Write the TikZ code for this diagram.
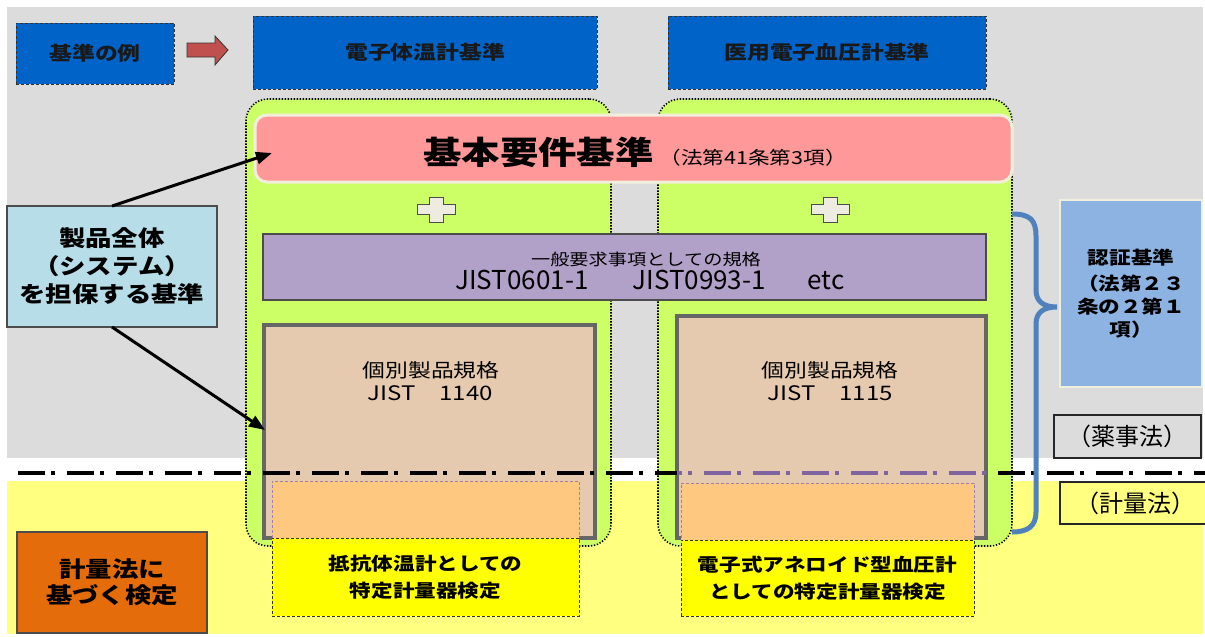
\documentclass[tikz,border=0pt]{standalone}
\usepackage{fontspec}
\setmainfont{Noto Sans CJK JP}
\newfontfamily\jpw{Noto Sans CJK JP}[FakeStretch=1.2]
\usetikzlibrary{arrows.meta}
\definecolor{cbggray}{HTML}{DCDCDC}
\definecolor{cbgyellow}{HTML}{FFFF80}
\definecolor{ctopblue}{HTML}{0063C8}
\definecolor{carrowred}{HTML}{C0504D}
\definecolor{cgreen}{HTML}{CCFF66}
\definecolor{cpink}{HTML}{FF9999}
\definecolor{ccream}{HTML}{F2EEDC}
\definecolor{cplus}{HTML}{EEECE1}
\definecolor{cpurple}{HTML}{B1A0C7}
\definecolor{ctan}{HTML}{E6CAB0}
\definecolor{ctanline}{HTML}{666666}
\definecolor{corangein}{HTML}{FFC880}
\definecolor{corangedash}{HTML}{A080A8}
\definecolor{cyellowlab}{HTML}{FFFF00}
\definecolor{clightblue}{HTML}{B7DEE8}
\definecolor{cnintei}{HTML}{8DB3E2}
\definecolor{corange}{HTML}{E46C0A}
\definecolor{cbrace}{HTML}{4F81BD}
\definecolor{cviolet}{HTML}{8064A2}
\newcommand\fs[2]{\fontsize{#1}{#2}\selectfont}
\begin{document}
\begin{tikzpicture}[x=1pt,y=-1pt,
  base/.style={inner sep=0pt, outer sep=0pt, anchor=north west, align=center},
  txt/.style={inner sep=0pt, outer sep=0pt, align=center},
  topbox/.style={base, fill=ctopblue, draw=black!80, dash pattern=on 3pt off 2pt, line width=0.8pt, font=\jpw\bfseries\fs{19}{23}, text=black!90},
  greenbox/.style={base, fill=cgreen, draw=black, line width=1.6pt, dash pattern=on 1.3pt off 1.7pt, rounded corners=22pt},
  pinkbox/.style={base, fill=cpink, draw=ccream, line width=3pt, rounded corners=12pt},
  plusbox/.style={fill=cplus, draw=black!70, line width=1pt},
  purplebox/.style={base, fill=cpurple, draw=black!70, line width=1.2pt},
  tanbox/.style={base, fill=ctan, draw=ctanline, line width=3.5pt},
  orangein/.style={base, fill=corangein, draw=corangedash, line width=1pt, dash pattern=on 3pt off 2pt},
  yellowlab/.style={base, fill=cyellowlab, draw=black!80, line width=0.9pt, dash pattern=on 3pt off 2pt, font=\jpw\bfseries\fs{18}{27}},
  lbbox/.style={base, fill=clightblue, draw=black!70, line width=1.2pt, font=\jpw\bfseries\fs{22}{28}},
  ninteibox/.style={base, fill=cnintei, draw=ccream, line width=2.5pt, font=\jpw\bfseries\fs{18}{23}},
  lawbox/.style={base, draw=black!85, line width=1.2pt, font=\fs{24}{28}},
  orbox/.style={base, fill=corange, draw=black!70, line width=1.2pt, font=\jpw\bfseries\fs{22}{26}},
  arr/.style={line width=3pt, -{Triangle[length=16pt,width=12pt]}},
  brace/.style={draw=cbrace, line width=5pt},
  dashdot/.style={line width=3.5pt, dash pattern=on 27pt off 6pt on 4pt off 12pt}
]
\useasboundingbox (0,0) rectangle (1205,637);
\fill[white] (0,0) rectangle (1205,637);
% backgrounds
\fill[cbggray] (7,7) rectangle (1203,458);
\fill[cbgyellow] (7,481) rectangle (1203,634);

% top row
\node[topbox, minimum width=158, minimum height=61] (ex) at (16,23) {基準の例};
\fill[carrowred, draw=black!80, line width=0.8pt] (187,43) -- (215,43) -- (215,36) -- (228,50) -- (215,65) -- (215,57) -- (187,57) -- cycle;
\node[topbox, minimum width=344, minimum height=73] (t1) at (253,16) {電子体温計基準};
\node[topbox, minimum width=318, minimum height=73] (t2) at (668,16) {医用電子血圧計基準};

% green groups
\node[greenbox, minimum width=365, minimum height=447] (g1) at (246,99) {};
\node[greenbox, minimum width=354, minimum height=447] (g2) at (658,99) {};

% basic requirements
\node[pinkbox, minimum width=757, minimum height=67] (req) at (255,115) {};
\node[txt, anchor=base] (reqt) at (635,164) {{\jpw\bfseries\fs{32}{36}基本要件基準}\hspace{6pt}{\jpw\fs{18}{22}（法第41条第3項）}};

% plus signs
\foreach \cx/\nm in {436/p1,830/p2}{
  \begin{scope}[shift={(\cx,209)}]
    \draw[plusbox] (-7,-12) -- (7,-12) -- (7,-5) -- (19,-5) -- (19,5) -- (7,5) -- (7,13) -- (-7,13) -- (-7,5) -- (-19,5) -- (-19,-5) -- (-7,-5) -- cycle;
  \end{scope}
}

% general standards
\node[purplebox, minimum width=723, minimum height=66] (gen) at (263,234) {};
\node[txt, font=\jpw\fs{16}{20}] (gen1) at (646,259) {一般要求事項としての規格};
\node[txt, font=\fs{26}{28}] (gen2) at (650,280) {JIST0601-1\hspace{44pt}JIST0993-1\hspace{42pt}etc};

% individual product standards
\node[tanbox, minimum width=331, minimum height=213] (tan1) at (264,325) {};
\node[tanbox, minimum width=309, minimum height=222] (tan2) at (677,316) {};
\node[txt, font=\jpw\fs{19}{23}] (tan1a) at (431,370) {個別製品規格};
\node[txt, font=\jpw\fs{20}{23}] (tan1b) at (430,393) {JIST　1140};
\node[txt, font=\jpw\fs{19}{23}] (tan2a) at (830,370) {個別製品規格};
\node[txt, font=\jpw\fs{20}{23}] (tan2b) at (830,393) {JIST　1115};

% inner orange dashed boxes
\node[orangein, minimum width=307, minimum height=57] (o1) at (272,481) {};
\node[orangein, minimum width=293, minimum height=57] (o2) at (681,483) {};

% yellow label boxes
\node[yellowlab, minimum width=307, minimum height=78] (y1) at (272,538) {抵抗体温計としての\\特定計量器検定};
\node[yellowlab, minimum width=293, minimum height=76] (y2) at (681,540) {電子式アネロイド型血圧計\\としての特定計量器検定};

% dash-dot boundary
\coordinate (dl) at (18,473);
\coordinate (dr) at (1205,473);
\coordinate (vl) at (677,473);
\coordinate (vr) at (986,473);
\draw[dashdot] (dl) -- (dr);
\draw[dashdot, cviolet, dash phase=22pt] (vl) -- (vr);

% whole-system box and arrows
\node[lbbox, minimum width=210, minimum height=121] (lb) at (7,206) {製品全体\\（システム）\\を担保する基準};
\coordinate (tipa) at (272,153);
\coordinate (tipb) at (265,430);
\draw[arr] (lb.north) -- (tipa);
\draw[arr] (lb.south) -- (tipb);

% right side
\coordinate (bt) at (1012,214);
\coordinate (bb) at (1012,532);
\draw[brace] (bt) .. controls (1030,214) and (1036,220) .. (1036,236) -- (1036,290) .. controls (1036,302) and (1044,307) .. (1057,307) .. controls (1044,307) and (1036,312) .. (1036,324) -- (1036,512) .. controls (1036,526) and (1028,532) .. (bb);
\node[ninteibox, minimum width=142, minimum height=187] (nin) at (1060,200) {};
\node[txt, font=\jpw\bfseries\fs{18}{23}] (nint) at (1131,294) {認証基準\\[3pt]（法第２３\\条の２第１\\項）};
\node[lawbox, fill=cbggray, minimum width=147, minimum height=43] (yaku) at (1054,415) {（薬事法）};
\node[lawbox, fill=cbgyellow, minimum width=150, minimum height=42] (keir) at (1060,482) {（計量法）};

% measurement law box
\node[orbox, minimum width=190, minimum height=101] (kei) at (17,532) {計量法に\\基づく検定};
\end{tikzpicture}
\end{document}
